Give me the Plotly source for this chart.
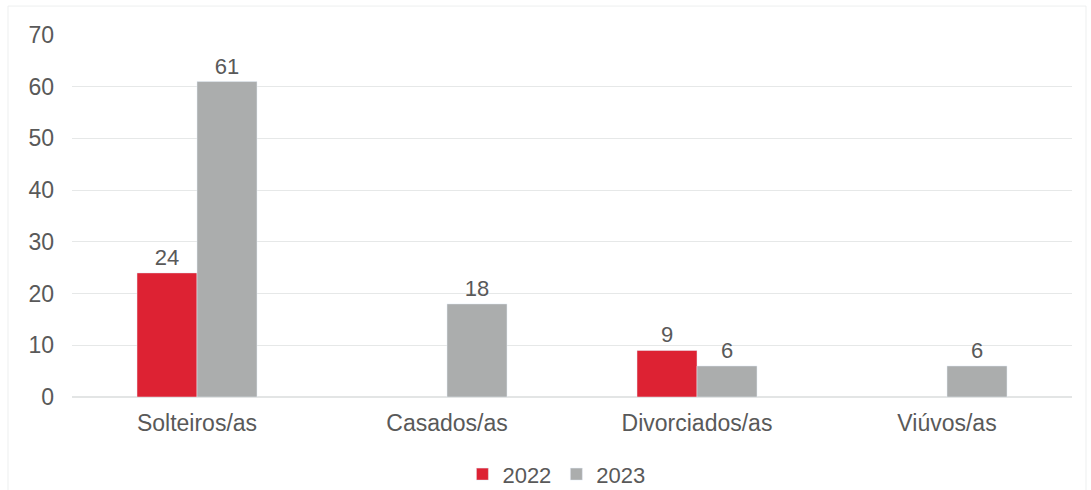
import plotly.graph_objects as go

categories = ["Solteiros/as", "Casados/as", "Divorciados/as", "Viúvos/as"]
values_2022 = [24, None, 9, None]
values_2023 = [61, 18, 6, 6]
y_ticks = [0, 10, 20, 30, 40, 50, 60, 70]

RED = "#DD2233"
GREY = "#ABADAD"
TEXT = "#595959"
FONT = "Liberation Sans, Arial, sans-serif"
SIZE = 23

fig = go.Figure()
fig.add_trace(go.Bar(
    name="2022", x=categories, y=values_2022, marker_color=RED,
    text=values_2022, textposition="outside", cliponaxis=False,
    textfont=dict(size=22, color=TEXT, family=FONT),
))
fig.add_trace(go.Bar(
    name="2023", x=categories, y=values_2023, marker_color=GREY,
    text=values_2023, textposition="outside", cliponaxis=False,
    textfont=dict(size=22, color=TEXT, family=FONT),
))

fig.update_layout(
    width=1091, height=490,
    margin=dict(l=72, r=19, t=35, b=93, autoexpand=False),
    paper_bgcolor="white", plot_bgcolor="white",
    barmode="group", bargap=0.52, bargroupgap=0,
    font=dict(family=FONT, size=SIZE, color=TEXT),
    showlegend=True,
    legend=dict(orientation="h", x=0.51, xanchor="center", xref="container",
                y=0.032, yanchor="middle", yref="container",
                font=dict(size=22, color=TEXT), itemwidth=30,
                traceorder="normal", bgcolor="rgba(0,0,0,0)"),
    uniformtext=dict(mode=False),
)
fig.update_xaxes(showline=False, ticks="", tickfont=dict(size=SIZE, color=TEXT),
                 ticklabelstandoff=10)
fig.update_yaxes(range=[0, 70], tickvals=y_ticks, showgrid=True,
                 gridcolor="#E6E8E8", gridwidth=1, zeroline=True,
                 zerolinecolor="#E3E5E5", showline=False, ticks="",
                 tickfont=dict(size=SIZE, color=TEXT), ticklabelstandoff=17)

# faint frame around the chart
fig.add_shape(type="rect", xref="paper", yref="paper",
              x0=-0.064, x1=1.014, y0=-0.28, y1=1.08,
              line=dict(color="#EDEFEF", width=1), layer="below")

fig.write_html("out.html")
